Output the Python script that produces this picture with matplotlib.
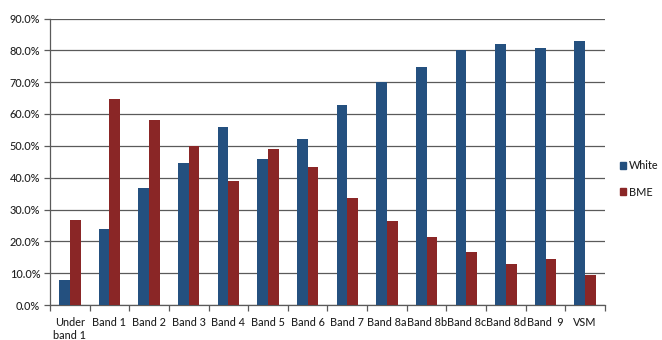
import matplotlib
matplotlib.use("Agg")
import matplotlib.pyplot as plt
import numpy as np
from matplotlib.ticker import FuncFormatter, FixedLocator
from matplotlib.patches import Patch

categories = ["Under\nband 1", "Band 1", "Band 2", "Band 3", "Band 4", "Band 5", "Band 6",
              "Band 7", "Band 8a", "Band 8b", "Band 8c", "Band 8d", "Band  9", "VSM"]
white = [7.8, 23.8, 36.7, 44.7, 56.0, 45.8, 52.3, 62.9, 70.1, 74.9, 80.0, 82.1, 80.6, 83.0]
bme = [26.6, 64.7, 58.2, 49.8, 39.1, 49.0, 43.5, 33.5, 26.5, 21.3, 16.6, 12.8, 14.4, 9.4]
series_names = ["White", "BME"]
yticks = [0, 10, 20, 30, 40, 50, 60, 70, 80, 90]

plt.rcParams['font.family'] = ['Lato', 'DejaVu Sans']
BLUE = '#24507f'
RED = '#8a2626'
GRID = '#5a5a5a'
TXT = '#222222'
FS = 7.8

fig = plt.figure(figsize=(6.62, 3.40), dpi=100)
ax = fig.add_axes([50/662, 1-305/340, (605-50)/662, (305-18.5)/340])

x = np.arange(len(categories))
w = 0.27
ax.bar(x - w/2, white, width=w, color=BLUE, zorder=3, label=series_names[0])
ax.bar(x + w/2, bme, width=w, color=RED, zorder=3, label=series_names[1])

ax.set_ylim(0, 90)
ax.set_xlim(-0.5, len(categories) - 0.5)
ax.set_yticks(yticks)
ax.yaxis.set_major_formatter(FuncFormatter(lambda v, p: f"{v:.1f}%"))
ax.yaxis.grid(True, color=GRID, linewidth=0.9, zorder=0)
ax.set_axisbelow(True)

ax.set_xticks(x)
ax.set_xticklabels(categories, fontsize=FS, color=TXT, fontweight='medium', linespacing=1.2)
ax.xaxis.set_minor_locator(FixedLocator(np.arange(-0.5, len(categories), 1.0)))
ax.tick_params(axis='x', which='major', length=0, pad=9)
ax.tick_params(axis='x', which='minor', length=4, width=0.9, color=GRID)
ax.tick_params(axis='y', length=4, width=0.9, color=GRID, labelsize=FS, labelcolor=TXT, pad=3)
for lab in ax.get_yticklabels():
    lab.set_fontweight('medium')

for s in ['top', 'right']:
    ax.spines[s].set_visible(False)
for s in ['left', 'bottom']:
    ax.spines[s].set_color(GRID)
    ax.spines[s].set_linewidth(0.9)

handles = [Patch(color=BLUE), Patch(color=RED)]
leg = fig.legend(handles, series_names, loc='center left', bbox_to_anchor=(620/662, 1-179/340),
                 frameon=False, fontsize=FS, handlelength=0.55, handleheight=0.55,
                 handletextpad=0.25, labelspacing=1.4, borderaxespad=0, borderpad=0)
for t in leg.get_texts():
    t.set_color(TXT)
    t.set_fontweight('medium')

fig.savefig("out.png", dpi=100)
